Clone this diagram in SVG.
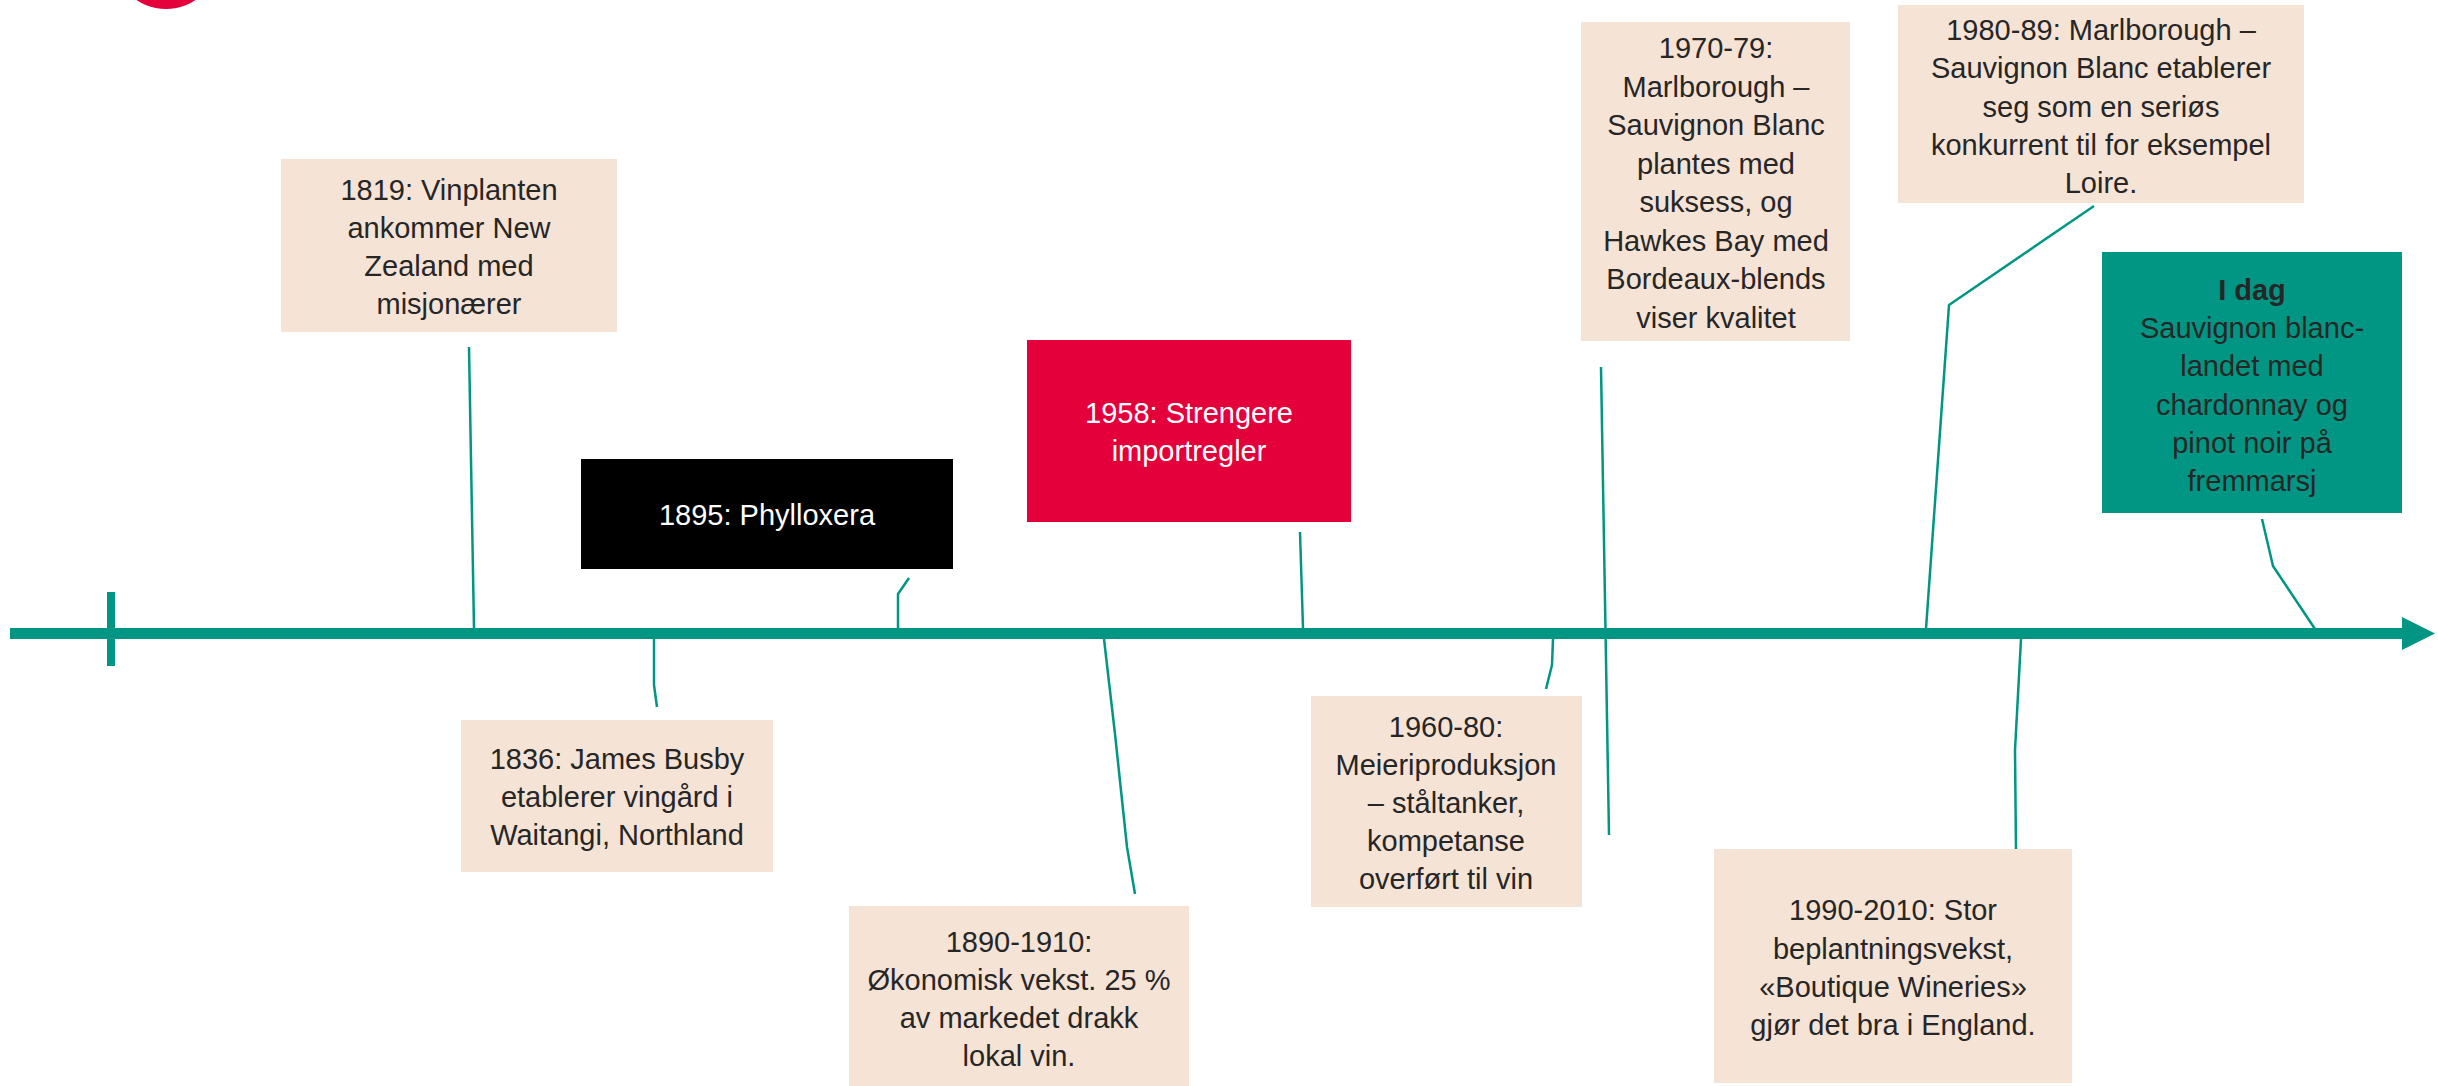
<svg xmlns="http://www.w3.org/2000/svg" width="2438" height="1086" viewBox="0 0 2438 1086">
<style>
.box{fill:#F5E3D6}
.t{font-family:"Liberation Sans",Arial,sans-serif;font-size:29px;fill:#262626;text-anchor:middle}
.w{fill:#FFFFFF}
.c{fill:none;stroke:#009683;stroke-width:2.5;stroke-linejoin:round}
</style>
<rect width="2438" height="1086" fill="#FFFFFF"/>
<circle id="logo" cx="166" cy="-44" r="53" fill="#E4003B"/>
<g id="timeline">
<rect x="10" y="628" width="2393" height="11" fill="#009683"/>
<polygon points="2402,617 2435,633.5 2402,650" fill="#009683"/>
<rect x="107" y="592" width="8" height="74" fill="#009683"/>
</g>
<g id="connectors">
<polyline class="c" points="469,347 474,628"/>
<polyline class="c" points="654,639 654,685 657,707"/>
<polyline class="c" points="909,578 898,594 898,628"/>
<polyline class="c" points="1104,639 1115,734 1127,847 1135,894"/>
<polyline class="c" points="1300,532 1303,628"/>
<polyline class="c" points="1553,639 1552,665 1546,689"/>
<polyline class="c" points="1601,367 1609,835"/>
<polyline class="c" points="2094,206 1949,305 1926,629"/>
<polyline class="c" points="2021,639 2015,750 2016,852"/>
<polyline class="c" points="2262,519 2273,566 2315,629"/>
</g>
<g id="n1819">
<rect class="box" x="281" y="159" width="336" height="173"/>
<text class="t"><tspan x="449" y="200">1819: Vinplanten</tspan><tspan x="449" y="238">ankommer New</tspan><tspan x="449" y="276">Zealand med</tspan><tspan x="449" y="314">misjonærer</tspan></text>
</g>
<g id="n1836">
<rect class="box" x="461" y="720" width="312" height="152"/>
<text class="t"><tspan x="617" y="769">1836: James Busby</tspan><tspan x="617" y="807">etablerer vingård i</tspan><tspan x="617" y="845">Waitangi, Northland</tspan></text>
</g>
<g id="n1895">
<rect x="581" y="459" width="372" height="110" fill="#000000"/>
<text class="t w" x="767" y="525">1895: Phylloxera</text>
</g>
<g id="n1958">
<rect x="1027" y="340" width="324" height="182" fill="#E4003B"/>
<text class="t w"><tspan x="1189" y="423">1958: Strengere</tspan><tspan x="1189" y="461">importregler</tspan></text>
</g>
<g id="n1890">
<rect class="box" x="849" y="906" width="340" height="180"/>
<text class="t"><tspan x="1019" y="952">1890-1910:</tspan><tspan x="1019" y="990">Økonomisk vekst. 25 %</tspan><tspan x="1019" y="1028">av markedet drakk</tspan><tspan x="1019" y="1066">lokal vin.</tspan></text>
</g>
<g id="n1960">
<rect class="box" x="1311" y="696" width="271" height="211"/>
<text class="t"><tspan x="1446" y="737">1960-80:</tspan><tspan x="1446" y="775">Meieriproduksjon</tspan><tspan x="1446" y="813">– ståltanker,</tspan><tspan x="1446" y="851">kompetanse</tspan><tspan x="1446" y="889">overført til vin</tspan></text>
</g>
<g id="n1970">
<rect class="box" x="1581" y="22" width="269" height="319"/>
<text class="t"><tspan x="1716" y="58">1970-79:</tspan><tspan x="1716" y="96.5">Marlborough –</tspan><tspan x="1716" y="135">Sauvignon Blanc</tspan><tspan x="1716" y="173.5">plantes med</tspan><tspan x="1716" y="212">suksess, og</tspan><tspan x="1716" y="250.5">Hawkes Bay med</tspan><tspan x="1716" y="289">Bordeaux-blends</tspan><tspan x="1716" y="327.5">viser kvalitet</tspan></text>
</g>
<g id="n1980">
<rect class="box" x="1898" y="5" width="406" height="198"/>
<text class="t"><tspan x="2101" y="40">1980-89: Marlborough –</tspan><tspan x="2101" y="78">Sauvignon Blanc etablerer</tspan><tspan x="2101" y="117">seg som en seriøs</tspan><tspan x="2101" y="155">konkurrent til for eksempel</tspan><tspan x="2101" y="193">Loire.</tspan></text>
</g>
<g id="ndag">
<rect x="2102" y="252" width="300" height="261" fill="#009683"/>
<text class="t"><tspan x="2252" y="300" font-weight="bold">I dag</tspan><tspan x="2252" y="338">Sauvignon blanc-</tspan><tspan x="2252" y="376">landet med</tspan><tspan x="2252" y="415">chardonnay og</tspan><tspan x="2252" y="453">pinot noir på</tspan><tspan x="2252" y="491">fremmarsj</tspan></text>
</g>
<g id="n1990">
<rect class="box" x="1714" y="849" width="358" height="234"/>
<text class="t"><tspan x="1893" y="920">1990-2010: Stor</tspan><tspan x="1893" y="959">beplantningsvekst,</tspan><tspan x="1893" y="997">«Boutique Wineries»</tspan><tspan x="1893" y="1035">gjør det bra i England.</tspan></text>
</g>
</svg>
